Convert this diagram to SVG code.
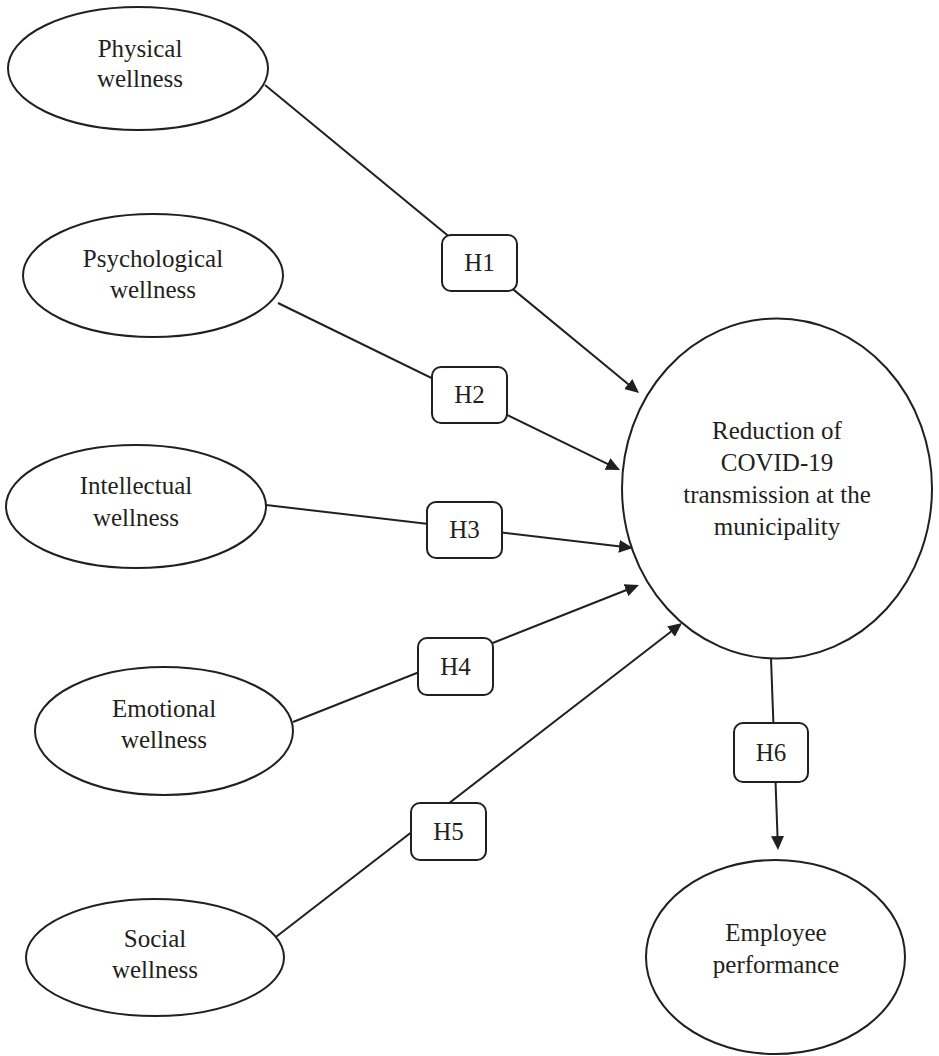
<svg xmlns="http://www.w3.org/2000/svg" width="939" height="1056" viewBox="0 0 939 1056">
<style>
.shape{fill:#ffffff;stroke:#231f20;stroke-width:2}
.box{fill:#ffffff;stroke:#231f20;stroke-width:2}
.conn{fill:none;stroke:#231f20;stroke-width:2}
.lbl{font-family:'Liberation Serif','DejaVu Serif',serif;font-size:25px;fill:#231f20;text-anchor:middle}
</style>
<defs>
<marker id="arrow" markerUnits="userSpaceOnUse" markerWidth="14" markerHeight="13" refX="8" refY="6.5" orient="auto">
<path d="M0,0 L14,6.5 L0,13 z" fill="#231f20"/>
</marker>
</defs>
<rect width="939" height="1056" fill="#ffffff"/>
<g id="connectors">
<line class="conn" x1="265" y1="85" x2="634.4" y2="389.2" marker-end="url(#arrow)"/>
<line class="conn" x1="278" y1="303" x2="614.6" y2="467.4" marker-end="url(#arrow)"/>
<line class="conn" x1="266" y1="505" x2="627" y2="547.3" marker-end="url(#arrow)"/>
<line class="conn" x1="293" y1="722" x2="633.4" y2="587.2" marker-end="url(#arrow)"/>
<line class="conn" x1="272" y1="940" x2="677.3" y2="626.7" marker-end="url(#arrow)"/>
<line class="conn" x1="771" y1="658" x2="777.8" y2="844" marker-end="url(#arrow)"/>
</g>
<g id="physical">
<ellipse class="shape" cx="138" cy="68.5" rx="130" ry="61.5"/>
<text class="lbl" font-family="Liberation Serif, serif" x="140" y="57">Physical</text>
<text class="lbl" font-family="Liberation Serif, serif" x="140" y="87">wellness</text>
</g>
<g id="psychological">
<ellipse class="shape" cx="153" cy="275.5" rx="130" ry="61.5"/>
<text class="lbl" font-family="Liberation Serif, serif" x="153" y="267">Psychological</text>
<text class="lbl" font-family="Liberation Serif, serif" x="153" y="298">wellness</text>
</g>
<g id="intellectual">
<ellipse class="shape" cx="136" cy="506.5" rx="130" ry="61.5"/>
<text class="lbl" font-family="Liberation Serif, serif" x="136" y="494">Intellectual</text>
<text class="lbl" font-family="Liberation Serif, serif" x="136" y="526">wellness</text>
</g>
<g id="emotional">
<ellipse class="shape" cx="164" cy="731" rx="129" ry="64"/>
<text class="lbl" font-family="Liberation Serif, serif" x="164" y="717">Emotional</text>
<text class="lbl" font-family="Liberation Serif, serif" x="164" y="748">wellness</text>
</g>
<g id="social">
<ellipse class="shape" cx="155" cy="957.5" rx="129" ry="58.5"/>
<text class="lbl" font-family="Liberation Serif, serif" x="155" y="947">Social</text>
<text class="lbl" font-family="Liberation Serif, serif" x="155" y="978">wellness</text>
</g>
<g id="reduction">
<ellipse class="shape" cx="777" cy="488.5" rx="155" ry="170"/>
<text class="lbl" font-family="Liberation Serif, serif" x="777" y="439">Reduction of</text>
<text class="lbl" font-family="Liberation Serif, serif" x="777" y="471">COVID-19</text>
<text class="lbl" font-family="Liberation Serif, serif" x="777" y="503">transmission at the</text>
<text class="lbl" font-family="Liberation Serif, serif" x="777" y="535">municipality</text>
</g>
<g id="employee">
<ellipse class="shape" cx="775.5" cy="957" rx="129.5" ry="97"/>
<text class="lbl" font-family="Liberation Serif, serif" x="776" y="941">Employee</text>
<text class="lbl" font-family="Liberation Serif, serif" x="776" y="973">performance</text>
</g>
<g id="h1">
<rect class="box" x="442" y="235" width="75" height="56" rx="9"/>
<text class="lbl" font-family="Liberation Serif, serif" x="479.5" y="271">H1</text>
</g>
<g id="h2">
<rect class="box" x="432" y="367" width="75" height="56" rx="9"/>
<text class="lbl" font-family="Liberation Serif, serif" x="469.5" y="403">H2</text>
</g>
<g id="h3">
<rect class="box" x="427" y="502" width="75" height="56" rx="9"/>
<text class="lbl" font-family="Liberation Serif, serif" x="464.5" y="538">H3</text>
</g>
<g id="h4">
<rect class="box" x="418" y="638" width="75" height="57" rx="9"/>
<text class="lbl" font-family="Liberation Serif, serif" x="455.5" y="675">H4</text>
</g>
<g id="h5">
<rect class="box" x="411" y="803" width="75" height="57" rx="9"/>
<text class="lbl" font-family="Liberation Serif, serif" x="448.5" y="840">H5</text>
</g>
<g id="h6">
<rect class="box" x="734" y="723" width="74" height="59" rx="9"/>
<text class="lbl" font-family="Liberation Serif, serif" x="771" y="761">H6</text>
</g>
</svg>
